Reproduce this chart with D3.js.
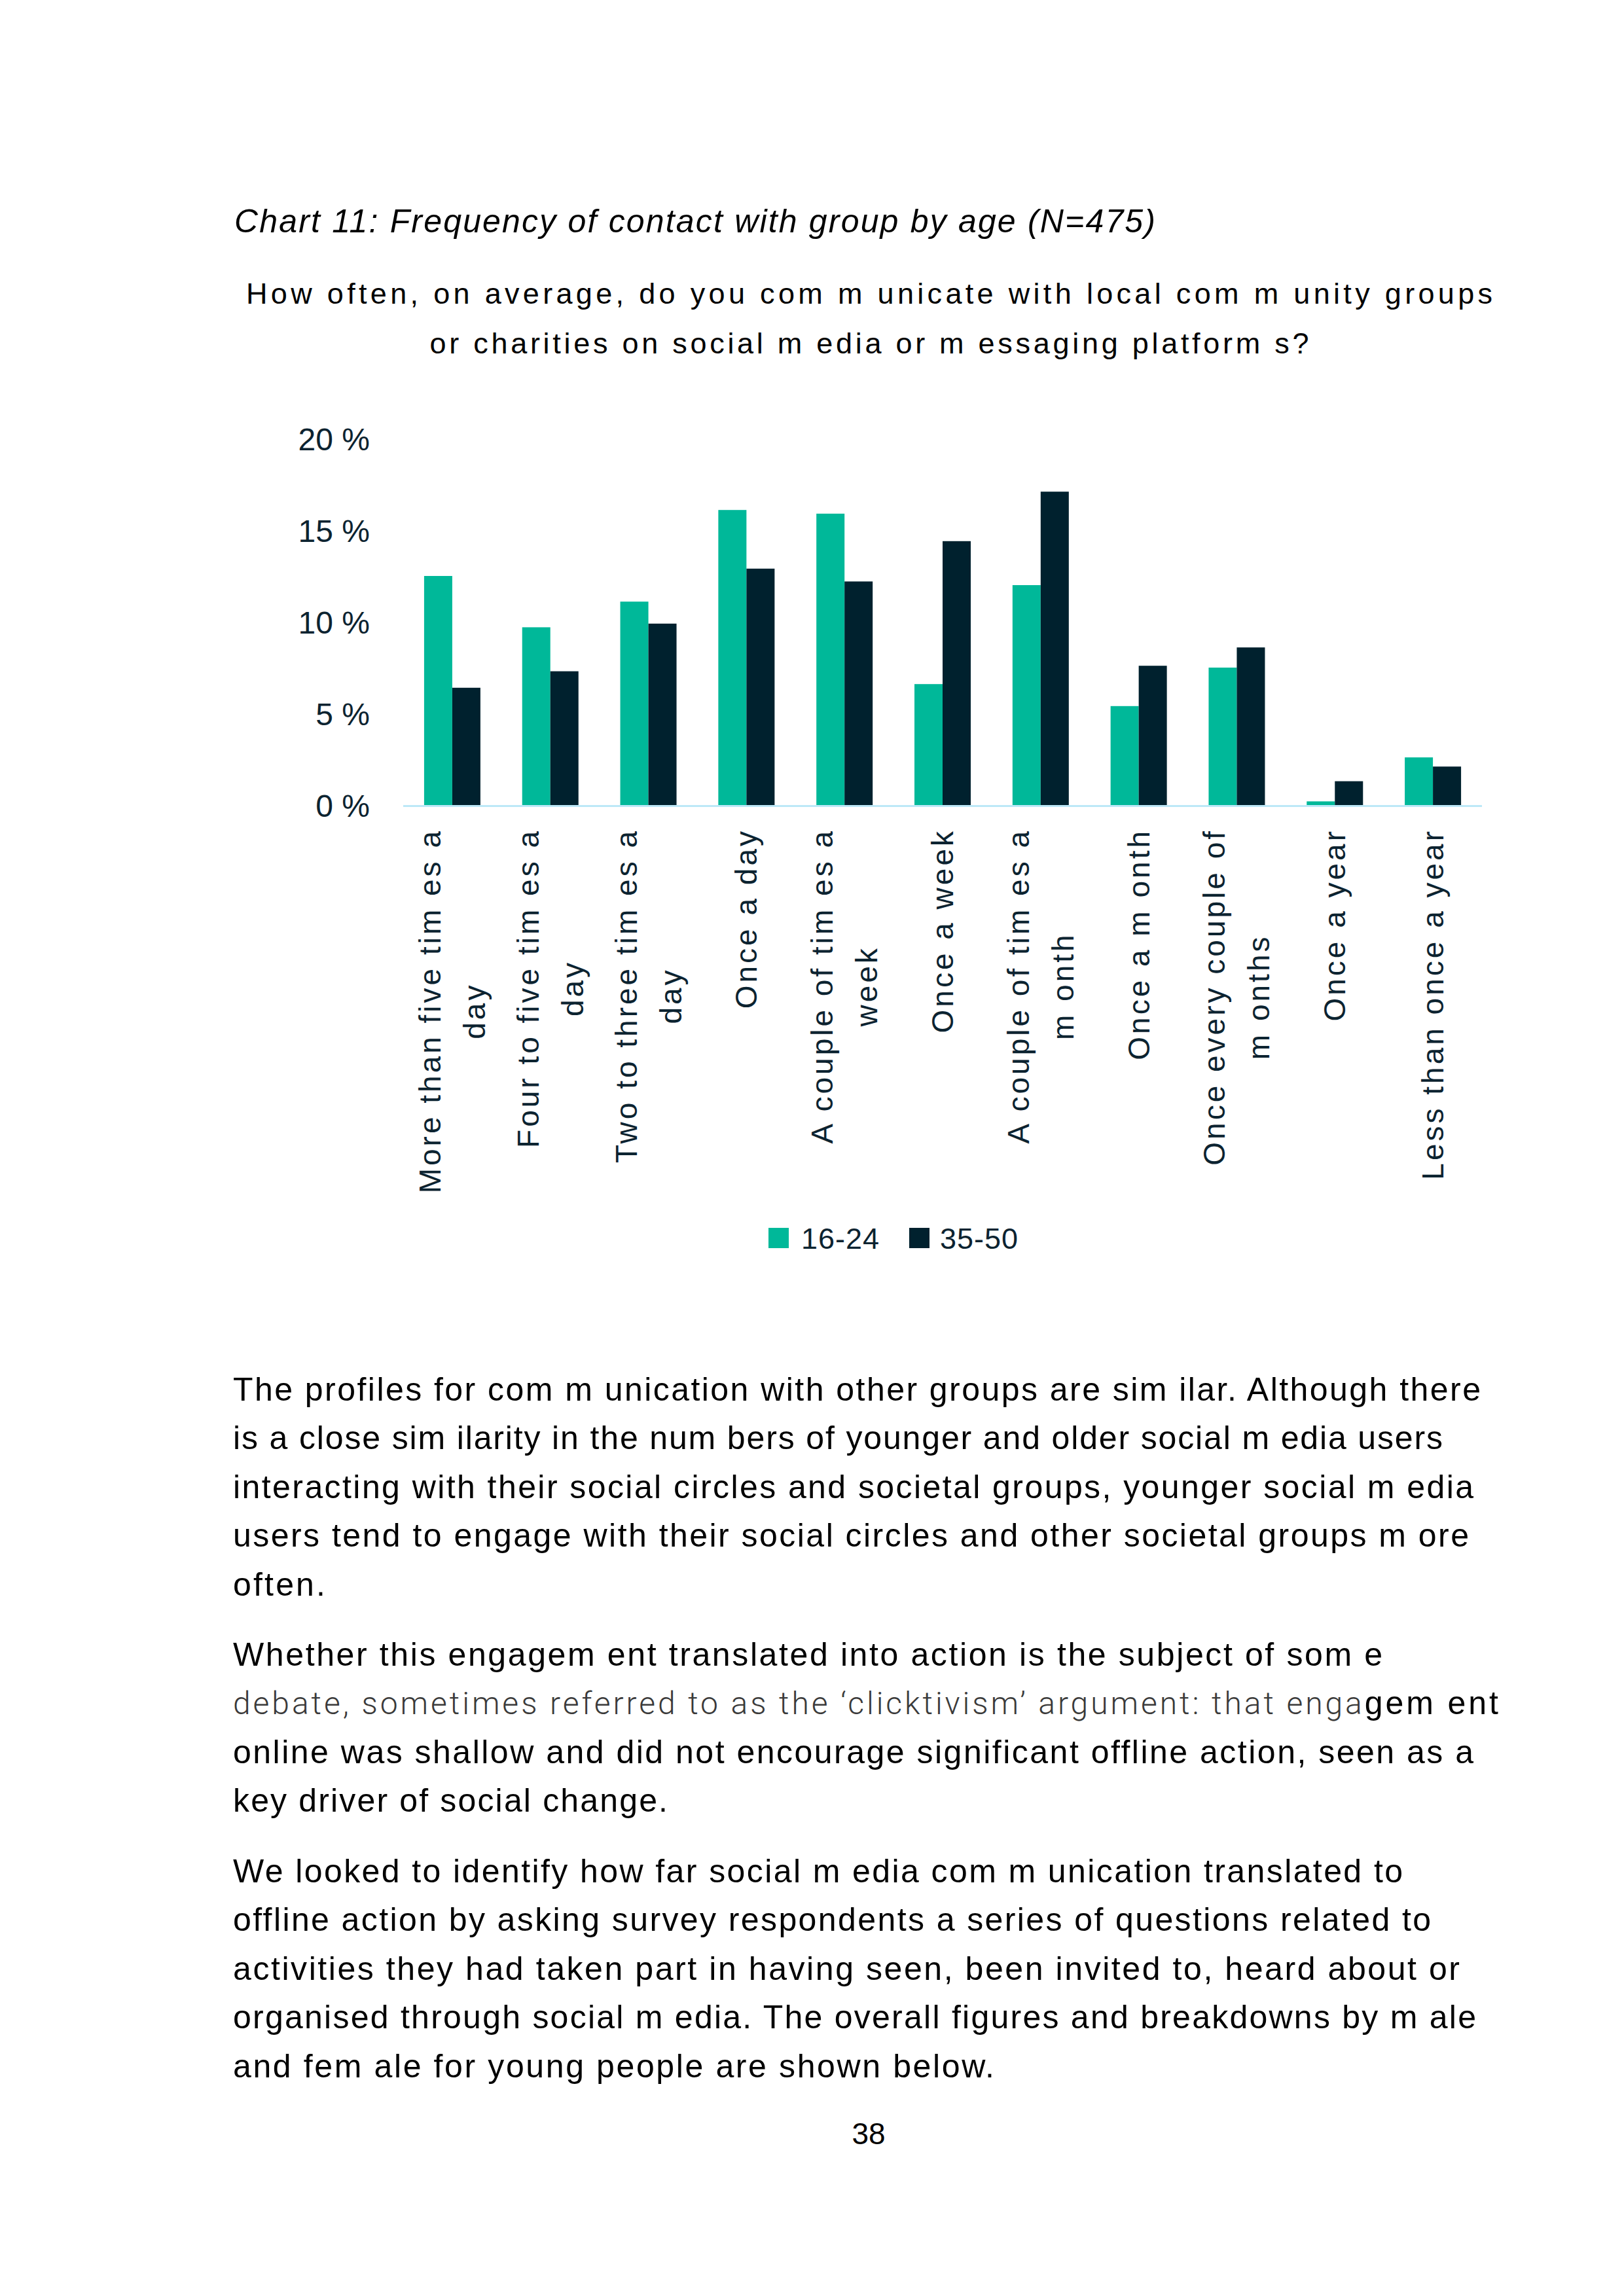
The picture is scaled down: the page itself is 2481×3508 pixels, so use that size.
<!DOCTYPE html>
<html>
<head>
<meta charset="utf-8">
<script src="https://cdn.jsdelivr.net/npm/d3@7"></script>
<style>
  html, body { margin: 0; padding: 0; background: #ffffff; }
  svg { display: block; }
</style>
</head>
<body>
<script>
// ---------- DATA ----------
const categories = [
  "More than five tim es a\nday",
  "Four to five tim es a\nday",
  "Two to three tim es a\nday",
  "Once a day",
  "A couple of tim es a\nweek",
  "Once a week",
  "A couple of tim es a\nm onth",
  "Once a m onth",
  "Once every couple of\nm onths",
  "Once a year",
  "Less than once a year"
];
const seriesNames = ["16-24", "35-50"];
const values16to24 = [12.5, 9.7, 11.1, 16.1, 15.9, 6.6, 12.0, 5.4, 7.5, 0.2, 2.6];
const values35to50 = [6.4, 7.3, 9.9, 12.9, 12.2, 14.4, 17.1, 7.6, 8.6, 1.3, 2.1];
const yTicks = [0, 5, 10, 15, 20];
const yTickLabels = ["0 %", "5 %", "10 %", "15 %", "20 %"];

const chartTitle = "Chart 11: Frequency of contact with group by age (N=475)";
const questionLines = [
  "How often, on average, do you com m unicate with local com m unity groups",
  "or charities on social m edia or m essaging platform s?"
];
const paragraph1 = [
  "The profiles for com m unication with other groups are sim ilar. Although there",
  "is a close sim ilarity in the num bers of younger and older social m edia users",
  "interacting with their social circles and societal groups, younger social m edia",
  "users tend to engage with their social circles and other societal groups m ore",
  "often."
];
const paragraph2a = "Whether this engagem ent translated into action is the subject of som e";
const paragraph2bLight = "debate, sometimes referred to as the \u2018clicktivism\u2019 argument: that enga";
const paragraph2bRegular = "gem ent";
const paragraph2rest = [
  "online was shallow and did not encourage significant offline action, seen as a",
  "key driver of social change."
];
const paragraph3 = [
  "We looked to identify how far social m edia com m unication translated to",
  "offline action by asking survey respondents a series of questions related to",
  "activities they had taken part in having seen, been invited to, heard about or",
  "organised through social m edia. The overall figures and breakdowns by m ale",
  "and fem ale for young people are shown below."
];
const pageNumber = "38";

// ---------- STYLE / LAYOUT ----------
const W = 2481, H = 3508;
const colors = ["#00b899", "#00212e"];
const textDark = "#0c2330";
const font = "'Liberation Sans', Arial, Helvetica, sans-serif";

const svg = d3.select("body").append("svg")
  .attr("width", W).attr("height", H)
  .attr("viewBox", `0 0 ${W} ${H}`);
svg.append("rect").attr("width", W).attr("height", H).attr("fill", "#fff");

// Title
svg.append("text")
  .attr("x", 358).attr("y", 355)
  .attr("font-family", font).attr("font-style", "italic")
  .attr("font-size", 50).attr("fill", "#000")
  .attr("textLength", 1407).attr("lengthAdjust", "spacing")
  .text(chartTitle);

// Question (two centered lines)
const qWidths = [1904, 1343];
const qBase = [464, 540];
questionLines.forEach((t, i) => {
  svg.append("text")
    .attr("x", 1328).attr("y", qBase[i])
    .attr("text-anchor", "middle")
    .attr("font-family", font).attr("font-size", 45).attr("fill", "#000")
    .attr("textLength", qWidths[i]).attr("lengthAdjust", "spacing")
    .text(t);
});

// ---------- CHART ----------
const x0 = 616, x1 = 2264, yZero = 1230, yTop = 670;
const x = d3.scaleBand().domain(d3.range(categories.length))
  .range([x0, x1]).paddingInner(0.426).paddingOuter(0.213);
const xs = d3.scaleBand().domain([0, 1]).range([0, x.bandwidth()]);
const y = d3.scaleLinear().domain([0, 20]).range([yZero, yTop]);

const series = [values16to24, values35to50];
const g = svg.append("g");
series.forEach((vals, si) => {
  g.selectAll(null).data(vals).enter().append("rect")
    .attr("x", (d, i) => x(i) + xs(si))
    .attr("y", d => y(d))
    .attr("width", xs.bandwidth())
    .attr("height", d => y(0) - y(d))
    .attr("fill", colors[si]);
});

// x axis line
svg.append("line")
  .attr("x1", x0).attr("x2", x1)
  .attr("y1", yZero + 1.5).attr("y2", yZero + 1.5)
  .attr("stroke", "#bde8f7").attr("stroke-width", 3);

// y axis
const yAxis = d3.axisLeft(y).tickValues(yTicks)
  .tickFormat((d, i) => yTickLabels[i]).tickSize(0).tickPadding(0);
const yg = svg.append("g").attr("transform", `translate(565,0)`).call(yAxis);
yg.select(".domain").remove();
yg.selectAll("text")
  .attr("font-family", font).attr("font-size", 48)
  .attr("fill", textDark).attr("dy", "0.36em");

// x labels (rotated, multi-line, top-aligned, lines centered)
const labelTop = 1266;
const lineGap = 68;
categories.forEach((c, i) => {
  const lines = c.split("\n");
  const cx = x(i) + x.bandwidth() / 2;
  const lg = svg.append("g")
    .attr("transform", `translate(${cx},${labelTop}) rotate(-90)`);
  const texts = lines.map((ln, k) => lg.append("text")
    .attr("font-family", font).attr("font-size", 46)
    .attr("fill", textDark).attr("letter-spacing", 4)
    .attr("text-anchor", "middle")
    .text(ln));
  const maxW = d3.max(texts, t => t.node().getComputedTextLength());
  const n = lines.length;
  texts.forEach((t, k) => {
    const base = 16 + (k - (n - 1) / 2) * lineGap;
    t.attr("x", -maxW / 2).attr("y", base);
  });
});

// legend
const legendItems = [
  { sq: 1174, tx: 1224 },
  { sq: 1389, tx: 1436 }
];
seriesNames.forEach((s, i) => {
  svg.append("rect")
    .attr("x", legendItems[i].sq).attr("y", 1876)
    .attr("width", 31).attr("height", 31).attr("fill", colors[i]);
  svg.append("text")
    .attr("x", legendItems[i].tx).attr("y", 1908)
    .attr("font-family", font).attr("font-size", 45)
    .attr("fill", textDark).attr("letter-spacing", 1)
    .text(s);
});

// ---------- BODY TEXT ----------
const bodyX = 356;
const bodySize = 50;
function bodyLine(t, yb, w) {
  const el = svg.append("text")
    .attr("x", bodyX).attr("y", yb)
    .attr("font-family", font).attr("font-size", bodySize).attr("fill", "#000")
    .text(t);
  if (w) el.attr("textLength", w).attr("lengthAdjust", "spacing");
  return el;
}
const lh = 74.4;
const p1W = [1906, 1848, 1895, 1888, 141];
paragraph1.forEach((t, i) => bodyLine(t, 2140 + i * lh, p1W[i]));

bodyLine(paragraph2a, 2545, 1756);
const dl = svg.append("text")
  .attr("x", bodyX).attr("y", 2545 + lh)
  .attr("font-family", font).attr("font-size", bodySize)
  .attr("textLength", 1933).attr("lengthAdjust", "spacing");
dl.append("tspan").attr("font-family", "Roboto, 'Liberation Sans', sans-serif")
  .attr("font-weight", 300).attr("fill", "#3a3a3a").attr("font-size", 48)
  .text(paragraph2bLight);
dl.append("tspan").attr("fill", "#000").text(paragraph2bRegular);
const p2W = [1895, 664];
paragraph2rest.forEach((t, i) => bodyLine(t, 2545 + (i + 2) * lh, p2W[i]));

const p3W = [1787, 1830, 1874, 1899, 1163];
paragraph3.forEach((t, i) => bodyLine(t, 2876 + i * lh, p3W[i]));

svg.append("text")
  .attr("x", 1327).attr("y", 3276).attr("text-anchor", "middle")
  .attr("font-family", font).attr("font-size", 46).attr("fill", "#000")
  .text(pageNumber);
</script>
</body>
</html>
